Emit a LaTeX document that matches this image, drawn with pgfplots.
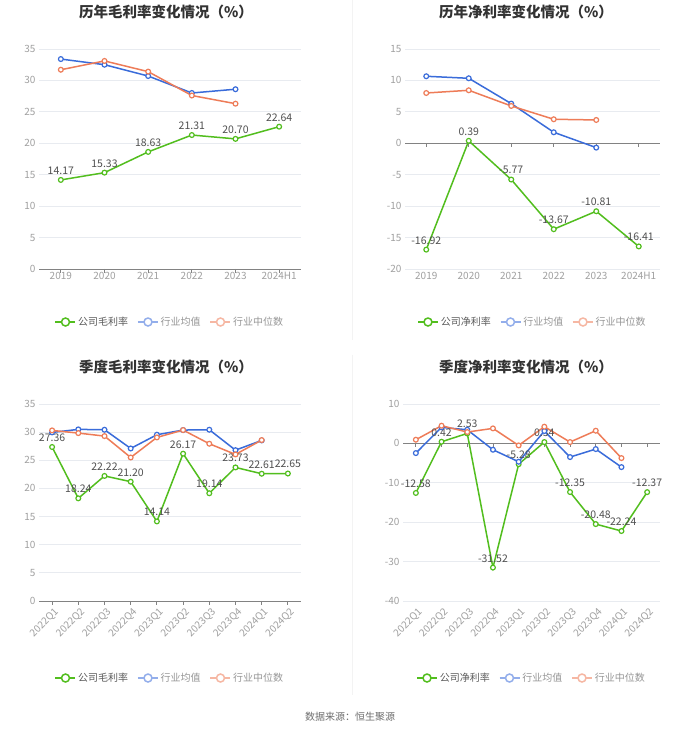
\documentclass[border=0pt]{standalone}
\usepackage{fontspec}
\setmainfont{Noto Sans CJK SC}
\usepackage{pgfplots}
\pgfplotsset{compat=1.18}
\definecolor{cgreen}{RGB}{82,190,30}
\definecolor{cblue}{RGB}{58,108,218}
\definecolor{corange}{RGB}{238,124,88}
\definecolor{cgrid}{RGB}{232,235,240}
\definecolor{ctick}{RGB}{160,160,160}
\definecolor{caxis}{RGB}{130,130,130}
\definecolor{clabel}{RGB}{80,80,80}
\definecolor{ctitle}{RGB}{51,51,51}
\definecolor{clegA}{RGB}{90,90,90}
\definecolor{clegB}{RGB}{150,150,150}
\pgfplotsset{
  mybase/.style={
    scale only axis,
    anchor=south west,
    axis line style={draw=none},
    ymajorgrids, grid style={cgrid, line width=0.8pt},
    major tick length=0pt,
    tick label style={font=\fontsize{10}{12}\selectfont, text=ctick},
    /pgf/number format/assume math mode=true,
    legend style={draw=none, fill=none, font=\fontsize{10}{12}\selectfont,
      legend columns=3, /tikz/every even column/.append style={column sep=7pt},
      anchor=center},
    legend cell align=left,
    clip=false,
  },
  legimg/.style={legend image code/.code={
      \draw[#1, line width=1.5pt] (0pt,0pt) -- (20pt,0pt);
      \draw[#1, fill=white, line width=1.5pt] (10pt,0pt) circle (4pt);}},
  comp/.style={cgreen, line width=1.5pt, mark=*, mark size=2.4pt,
    mark options={fill=white, line width=1.2pt, solid},
    legimg=cgreen,
    point meta=explicit symbolic, nodes near coords,
    every node near coord/.append style={font=\fontsize{10.5}{12}\selectfont, text=clabel, anchor=south, yshift=1.5pt}},
  avg/.style={cblue, line width=1.5pt, mark=*, mark size=2.4pt,
    mark options={fill=white, line width=1.2pt, solid}, legimg={cblue!55!white}},
  med/.style={corange, line width=1.5pt, mark=*, mark size=2.4pt,
    mark options={fill=white, line width=1.2pt, solid}, legimg={corange!55!white}},
}
\begin{document}
\begin{tikzpicture}
\path[use as bounding box, fill=white] (0,0) rectangle (700pt,734pt);
\draw[color={rgb,255:red,243;green,243;blue,243}, line width=1pt] (352pt,734pt) -- (352pt,394pt);
\draw[color={rgb,255:red,243;green,243;blue,243}, line width=1pt] (352pt,379pt) -- (352pt,39pt);
% titles
\node[font=\bfseries\fontsize{14.5}{16}\selectfont, text=ctitle] at (166pt,722pt) {历年毛利率变化情况（\%）};
\node[font=\bfseries\fontsize{14.5}{16}\selectfont, text=ctitle] at (526pt,722pt) {历年净利率变化情况（\%）};
\node[font=\bfseries\fontsize{14.5}{16}\selectfont, text=ctitle] at (166pt,367pt) {季度毛利率变化情况（\%）};
\node[font=\bfseries\fontsize{14.5}{16}\selectfont, text=ctitle] at (526pt,367pt) {季度净利率变化情况（\%）};
\node[font=\fontsize{10}{12}\selectfont, text={rgb,255:red,110;green,110;blue,110}] at (350pt,17pt) {数据来源：恒生聚源};

% Chart 1
\begin{axis}[mybase, at={(39pt,465pt)}, width=262pt, height=220pt,
  xmin=-0.5, xmax=5.5, ymin=0, ymax=35, ytick={0,5,...,35},
  xtick={0,...,5}, xticklabels={2019,2020,2021,2022,2023,2024H1},
  legend style={at={(0.5,-0.241)}}]
\draw[caxis, line width=0.8pt] (axis cs:-0.5,0) -- (axis cs:5.5,0);
\pgfplotsinvokeforeach{0,...,5}{\draw[caxis, line width=0.8pt] (axis cs:#1,0) -- ++(0pt,-4pt);}
\addplot[comp] coordinates {(0,14.17)[14.17] (1,15.33)[15.33] (2,18.63)[18.63] (3,21.31)[21.31] (4,20.70)[20.70] (5,22.64)[22.64]};
\addlegendentry{\textcolor{clegA}{公司毛利率}}
\addplot[avg] coordinates {(0,33.4) (1,32.5) (2,30.7) (3,28.0) (4,28.6)};
\addlegendentry{\textcolor{clegB}{行业均值}}
\addplot[med] coordinates {(0,31.7) (1,33.1) (2,31.4) (3,27.6) (4,26.3)};
\addlegendentry{\textcolor{clegB}{行业中位数}}
\end{axis}

% Chart 2
\begin{axis}[mybase, at={(405pt,465pt)}, width=255pt, height=220pt,
  xmin=-0.5, xmax=5.5, ymin=-20, ymax=15, ytick={-20,-15,...,15},
  xtick={0,...,5}, xticklabels={2019,2020,2021,2022,2023,2024H1},
  legend style={at={(0.5,-0.241)}}]
\draw[caxis, line width=0.8pt] (axis cs:-0.5,0) -- (axis cs:5.5,0);
\pgfplotsinvokeforeach{0,...,5}{\draw[caxis, line width=0.8pt] (axis cs:#1,0) -- ++(0pt,-4pt);}
\addplot[comp] coordinates {(0,-16.92)[-16.92] (1,0.39)[0.39] (2,-5.77)[-5.77] (3,-13.67)[-13.67] (4,-10.81)[-10.81] (5,-16.41)[-16.41]};
\addlegendentry{\textcolor{clegA}{公司净利率}}
\addplot[avg] coordinates {(0,10.66) (1,10.34) (2,6.31) (3,1.75) (4,-0.69)};
\addlegendentry{\textcolor{clegB}{行业均值}}
\addplot[med] coordinates {(0,8.0) (1,8.43) (2,5.94) (3,3.82) (4,3.71)};
\addlegendentry{\textcolor{clegB}{行业中位数}}
\end{axis}

% Chart 3
\begin{axis}[mybase, at={(39pt,133pt)}, width=262pt, height=197pt,
  xmin=-0.5, xmax=9.5, ymin=0, ymax=35, ytick={0,5,...,35},
  xtick={0,...,9}, xticklabels={2022Q1,2022Q2,2022Q3,2022Q4,2023Q1,2023Q2,2023Q3,2023Q4,2024Q1,2024Q2},
  xticklabel style={rotate=45, anchor=north east, yshift=-2pt},
  legend style={at={(0.5,-0.391)}}]
\draw[caxis, line width=0.8pt] (axis cs:-0.5,0) -- (axis cs:9.5,0);
\pgfplotsinvokeforeach{0,...,9}{\draw[caxis, line width=0.8pt] (axis cs:#1,0) -- ++(0pt,-4pt);}
\addplot[comp] coordinates {(0,27.36)[27.36] (1,18.24)[18.24] (2,22.22)[22.22] (3,21.20)[21.20] (4,14.14)[14.14] (5,26.17)[26.17] (6,19.14)[19.14] (7,23.73)[23.73] (8,22.61)[22.61] (9,22.65)[22.65]};
\addlegendentry{\textcolor{clegA}{公司毛利率}}
\addplot[avg] coordinates {(0,29.95) (1,30.49) (2,30.43) (3,27.1) (4,29.54) (5,30.37) (6,30.43) (7,26.8) (8,28.53)};
\addlegendentry{\textcolor{clegB}{行业均值}}
\addplot[med] coordinates {(0,30.31) (1,29.83) (2,29.3) (3,25.5) (4,29.06) (5,30.37) (6,27.94) (7,26.04) (8,28.59)};
\addlegendentry{\textcolor{clegB}{行业中位数}}
\end{axis}

% Chart 4
\begin{axis}[mybase, at={(403pt,133pt)}, width=257pt, height=197pt,
  xmin=-0.5, xmax=9.5, ymin=-40, ymax=10, ytick={-40,-30,...,10},
  xtick={0,...,9}, xticklabels={2022Q1,2022Q2,2022Q3,2022Q4,2023Q1,2023Q2,2023Q3,2023Q4,2024Q1,2024Q2},
  xticklabel style={rotate=45, anchor=north east, yshift=-2pt},
  legend style={at={(0.5,-0.391)}}]
\draw[caxis, line width=0.8pt] (axis cs:-0.5,0) -- (axis cs:9.5,0);
\pgfplotsinvokeforeach{0,...,9}{\draw[caxis, line width=0.8pt] (axis cs:#1,0) -- ++(0pt,-4pt);}
\addplot[comp] coordinates {(0,-12.58)[-12.58] (1,0.42)[0.42] (2,2.53)[2.53] (3,-31.52)[-31.52] (4,-5.28)[-5.28] (5,0.34)[0.34] (6,-12.35)[-12.35] (7,-20.48)[-20.48] (8,-22.24)[-22.24] (9,-12.37)[-12.37]};
\addlegendentry{\textcolor{clegA}{公司净利率}}
\addplot[avg] coordinates {(0,-2.46) (1,4.07) (2,3.47) (3,-1.61) (4,-4.66) (5,3.14) (6,-3.47) (7,-1.44) (8,-6.02)};
\addlegendentry{\textcolor{clegB}{行业均值}}
\addplot[med] coordinates {(0,0.93) (1,4.49) (2,2.88) (3,3.81) (4,-0.51) (5,4.24) (6,0.34) (7,3.22) (8,-3.73)};
\addlegendentry{\textcolor{clegB}{行业中位数}}
\end{axis}
\end{tikzpicture}
\end{document}
